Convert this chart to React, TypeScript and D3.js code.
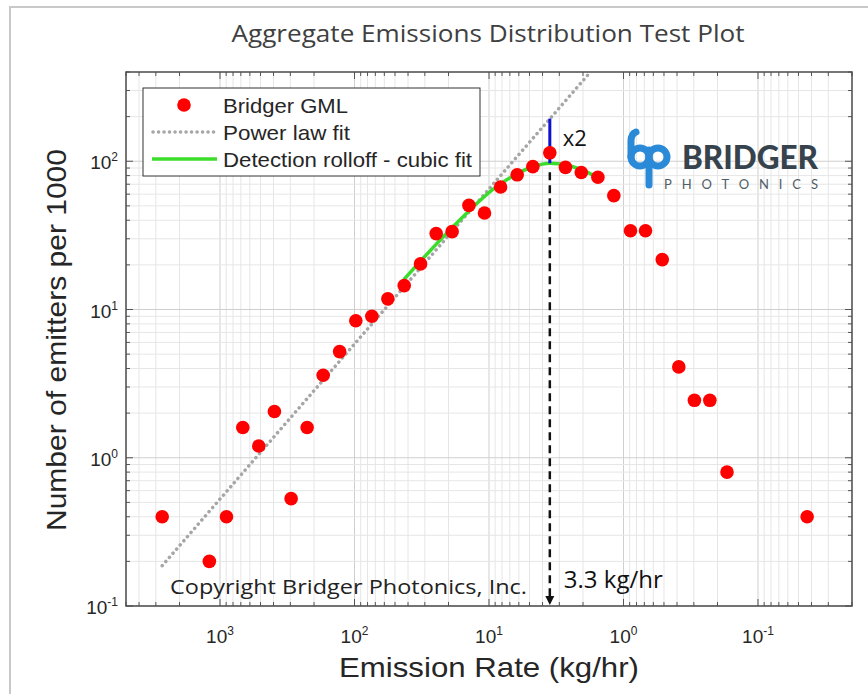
import React from 'react';
import * as d3 from 'd3';

// emission-rate bins (kg/hr) and emitters per 1000
const emissionRate = [2690, 1200, 895, 677, 515, 394, 296, 225, 171, 129, 97.8, 74.3, 56.5, 42.7, 32.3, 24.7, 18.8, 14.1, 10.8, 8.2, 6.17, 4.72, 3.53, 2.7, 2.06, 1.55, 1.18, 0.887, 0.686, 0.515, 0.388, 0.297, 0.228, 0.17, 0.0431];
const emittersPer1000 = [0.4, 0.2, 0.4, 1.6, 1.2, 2.05, 0.53, 1.6, 3.6, 5.2, 8.4, 9.0, 11.8, 14.5, 20.3, 32.5, 33.5, 50.4, 44.8, 67, 81, 92, 114, 91, 84, 78, 58.6, 34, 34, 21.7, 4.1, 2.44, 2.44, 0.8, 0.4];

// power law fit, end points
const powerLawX = [2690, 1.76];
const powerLawY = [0.187, 400];

// detection rolloff (cubic fit)
const rolloffX = [43.0, 18.8, 8.4, 6.17, 4.72, 3.53, 2.7, 2.06, 1.55];
const rolloffY = [15.9, 35.6, 69.5, 82.4, 91.8, 97, 94.6, 87.7, 77.5];

const peakX = 3.53;
const peakFit = 97;
const peakLabel = '3.3 kg/hr';

const xTickExp = [3, 2, 1, 0, -1];
const yTickExp = [-1, 0, 1, 2];

const legendLabels = ['Bridger GML', 'Power law fit', 'Detection rolloff - cubic fit'];
const legendWidths = [125, 127, 249];

const W = 868;
const H = 694;
const left = 126, right = 852, top = 72, bottom = 606;

const x = d3.scaleLog().domain([5000, 0.02]).range([left, right]);
const y = d3.scaleLog().domain([0.1, 400]).range([bottom, top]);

const isMajor = (v: number) => Math.abs(Math.log10(v) - Math.round(Math.log10(v))) < 1e-9;

export default function App() {
  const xt = x.ticks();
  const yt = y.ticks();
  const axisFont = '"Liberation Sans", Arial, sans-serif';
  const calibri = '"Open Sans", sans-serif';

  const line = d3.line<[number, number]>()
    .x((d) => x(d[0]))
    .y((d) => y(d[1]))
    .curve(d3.curveMonotoneX);

  const powerPts = powerLawX.map((v, i) => [v, powerLawY[i]] as [number, number]);
  const rollPts = rolloffX.map((v, i) => [v, rolloffY[i]] as [number, number]);
  const px = x(peakX);

  return (
    <svg width={W} height={H} style={{ position: 'absolute', left: 0, top: 0, background: '#fff' }}>
      <rect x={10} y={7} width={870} height={700} fill="none" stroke="#c8c8c8" strokeWidth={2} />
      <text x={488} y={42} textAnchor="middle" fontFamily={calibri} fontSize={24} fill="#404040"
        textLength={513} lengthAdjust="spacingAndGlyphs">Aggregate Emissions Distribution Test Plot</text>

      {/* grid */}
      <g>
        {xt.map((t, i) => (
          <line key={'gx' + i} x1={x(t)} x2={x(t)} y1={top} y2={bottom}
            stroke={isMajor(t) ? '#cfcfcf' : '#e6e6e6'} strokeWidth={1} />
        ))}
        {yt.map((t, i) => (
          <line key={'gy' + i} x1={left} x2={right} y1={y(t)} y2={y(t)}
            stroke={isMajor(t) ? '#cfcfcf' : '#e6e6e6'} strokeWidth={1} />
        ))}
      </g>

      {/* ticks on all four sides */}
      <g stroke="#555" strokeWidth={1}>
        {xt.map((t, i) => {
          const l = isMajor(t) ? 7 : 4;
          return (
            <g key={'tx' + i}>
              <line x1={x(t)} x2={x(t)} y1={bottom} y2={bottom - l} />
              <line x1={x(t)} x2={x(t)} y1={top} y2={top + l} />
            </g>
          );
        })}
        {yt.map((t, i) => {
          const l = isMajor(t) ? 7 : 4;
          return (
            <g key={'ty' + i}>
              <line x1={left} x2={left + l} y1={y(t)} y2={y(t)} />
              <line x1={right} x2={right - l} y1={y(t)} y2={y(t)} />
            </g>
          );
        })}
      </g>

      {/* power law fit */}
      <path d={line(powerPts) || ''} fill="none" stroke="#a6a6a6" strokeWidth={3.5}
        strokeDasharray="0.1 5.4" strokeLinecap="round" />
      {/* cubic fit */}
      <path d={line(rollPts) || ''} fill="none" stroke="#3cdc2c" strokeWidth={3.5} />

      {/* x2 marker */}
      <line x1={px} x2={px} y1={y(peakFit)} y2={y(peakFit * 2)} stroke="#1010d0" strokeWidth={3} />
      <text x={px + 13} y={146} fontFamily={calibri} fontSize={22} fill="#111">x2</text>

      {/* cutoff arrow */}
      <line x1={px} x2={px} y1={y(peakFit) + 9} y2={bottom - 8} stroke="#111" strokeWidth={2.5}
        strokeDasharray="8 5" />
      <path d={`M${px - 4.5},${bottom - 10} L${px + 4.5},${bottom - 10} L${px},${bottom - 1} Z`} fill="#111" />

      {/* data */}
      <g fill="#ff0000">
        {emissionRate.map((v, i) => (
          <circle key={'p' + i} cx={x(v)} cy={y(emittersPer1000[i])} r={6.8} />
        ))}
      </g>

      {/* frame */}
      <rect x={left} y={top} width={right - left} height={bottom - top} fill="none" stroke="#4d4d4d" strokeWidth={1.5} />

      {/* tick labels */}
      <g fontFamily={axisFont} fill="#262626">
        {xTickExp.map((e) => (
          <text key={'lx' + e} x={x(Math.pow(10, e))} y={643} textAnchor="middle" fontSize={19}>
            10<tspan dy={-8} fontSize={12}>{e}</tspan>
          </text>
        ))}
        {yTickExp.map((e) => (
          <text key={'ly' + e} x={left - 8} y={y(Math.pow(10, e)) + 8} textAnchor="end" fontSize={19}>
            10<tspan dy={-8} fontSize={12}>{e}</tspan>
          </text>
        ))}
      </g>

      <text x={489} y={677} textAnchor="middle" fontFamily={axisFont} fontSize={28} fill="#262626"
        textLength={300} lengthAdjust="spacingAndGlyphs">Emission Rate (kg/hr)</text>
      <text transform={`translate(66,340) rotate(-90)`} textAnchor="middle" fontFamily={axisFont} fontSize={28} fill="#262626"
        textLength={382} lengthAdjust="spacingAndGlyphs">Number of emitters per 1000</text>

      {/* legend */}
      <g fontFamily={axisFont} fontSize={21} fill="#262626">
        <rect x={143} y={88} width={337} height={88} fill="#fff" stroke="#333" strokeWidth={1} />
        <circle cx={184} cy={105} r={6.8} fill="#ff0000" />
        <line x1={153} x2={217} y1={132} y2={132} stroke="#a6a6a6" strokeWidth={3.5} strokeDasharray="0.1 5.4" strokeLinecap="round" />
        <line x1={152} x2={217} y1={159} y2={159} stroke="#3cdc2c" strokeWidth={3.5} />
        {legendLabels.map((s, i) => (
          <text key={s} x={223} y={113 + i * 27} textLength={legendWidths[i]} lengthAdjust="spacingAndGlyphs">{s}</text>
        ))}
      </g>

      {/* logo */}
      <g fill="none" stroke="#2a8ad8" strokeWidth={7} strokeLinecap="round">
        <path d="M636,132 Q631,134 631,141 L631,157" />
        <circle cx={640} cy={157} r={9} />
        <line x1={649} x2={649} y1={150} y2={185} />
        <circle cx={658} cy={157} r={9} />
      </g>
      <text x={682} y={169} fontFamily="Lato, sans-serif" fontWeight={900} fontSize={32} fill="#36434d"
        textLength={136} lengthAdjust="spacingAndGlyphs">BRIDGER</text>
      <text x={664} y={189} fontFamily="Lato, sans-serif" fontSize={13} fill="#4f5c66"
        textLength={154} lengthAdjust="spacing">PHOTONICS</text>

      {/* annotations */}
      <text x={170} y={594} fontFamily={calibri} fontSize={20} fill="#222" textLength={357} lengthAdjust="spacingAndGlyphs">Copyright Bridger Photonics, Inc.</text>
      <text x={px + 14} y={588} fontFamily={calibri} fontSize={24} fill="#111">{peakLabel}</text>
    </svg>
  );
}
